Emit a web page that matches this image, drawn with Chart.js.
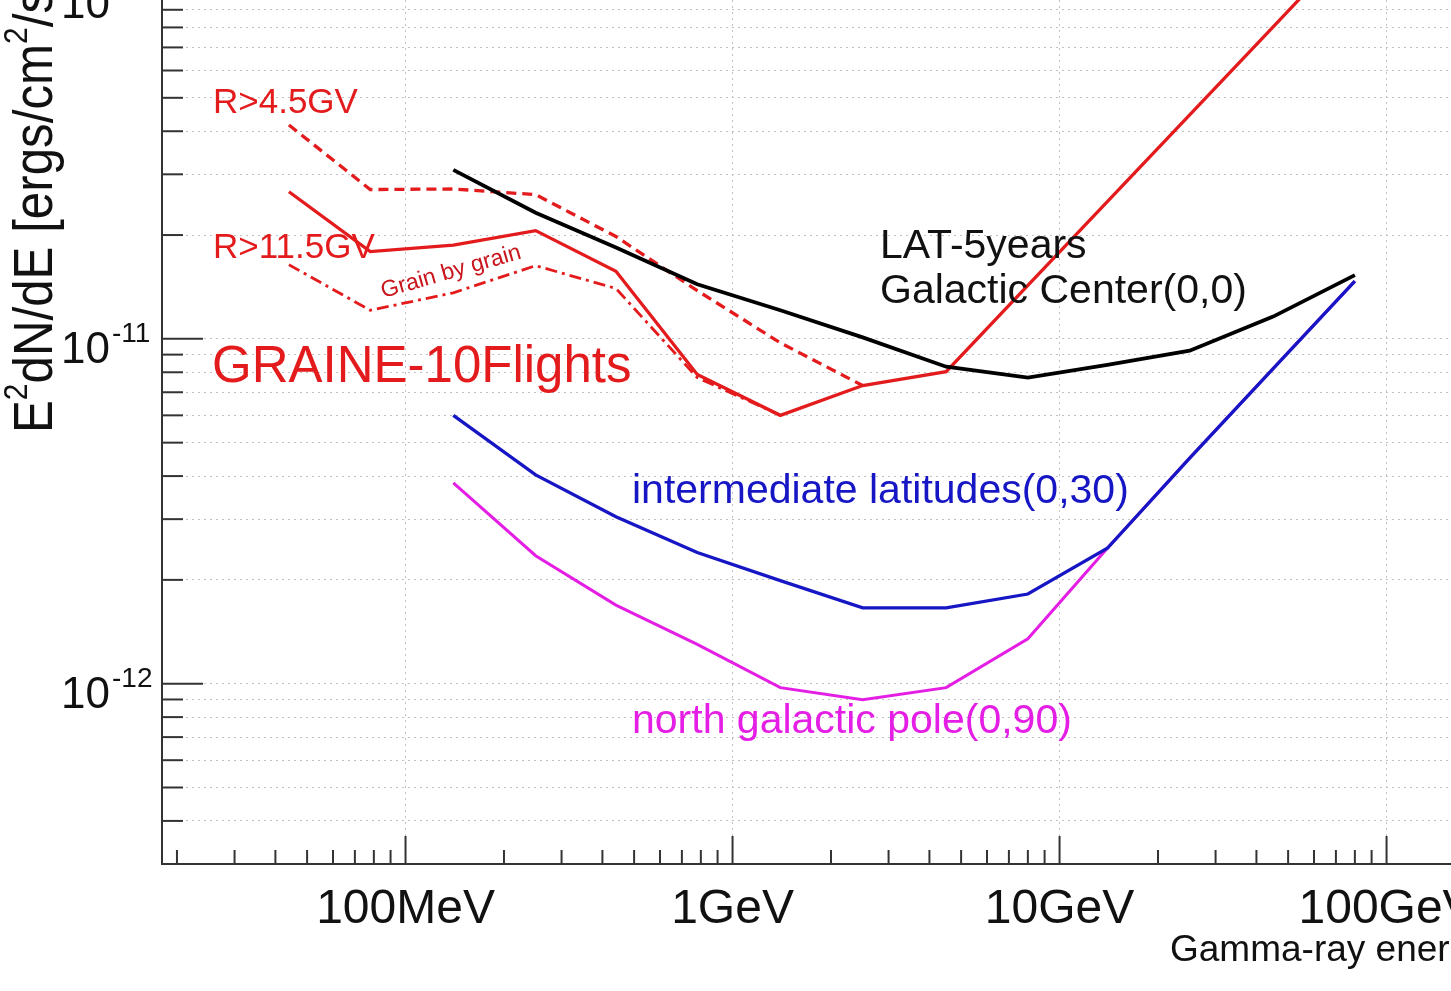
<!DOCTYPE html>
<html>
<head>
<meta charset="utf-8">
<script src="https://cdn.jsdelivr.net/npm/chart.js@4.4.1/dist/chart.umd.min.js"></script>
<style>
html, body { margin: 0; padding: 0; background: #fff; overflow: hidden; width: 1451px; height: 991px; }
#wrap { position: absolute; left: 0; top: -50px; }
</style>
</head>
<body>
<div id="wrap"><canvas id="sens" width="1700" height="1100"></canvas></div>
<script>
// energies in GeV, E^2 dN/dE in ergs/cm2/s
const fermiE = [0.14, 0.25, 0.44, 0.78, 1.4, 2.5, 4.5, 8, 14, 25, 45, 80];
const galCenter = [3.09e-11, 2.32e-11, 1.84e-11, 1.44e-11, 1.21e-11, 1.01e-11, 8.3e-12, 7.72e-12, 8.41e-12, 9.24e-12, 1.16e-11, 1.53e-11];
const midLat = [6.0e-12, 4.03e-12, 3.05e-12, 2.40e-12, 1.99e-12, 1.66e-12, 1.66e-12, 1.82e-12, 2.47e-12, 4.51e-12, 8.2e-12, 1.47e-11];
const northPole = [3.82e-12, 2.35e-12, 1.69e-12, 1.30e-12, 9.74e-13, 8.99e-13, 9.74e-13, 1.35e-12, 2.47e-12, 4.51e-12, 8.2e-12, 1.47e-11];

const graineE = [0.044, 0.078, 0.14, 0.25, 0.44, 0.78, 1.4, 2.5, 4.5, 8, 14, 25, 45, 80];
const graineR115 = [2.67e-11, 1.79e-11, 1.87e-11, 2.06e-11, 1.57e-11, 7.88e-12, 6.0e-12, 7.32e-12, 8.03e-12, 1.43e-11, 2.5e-11, 4.46e-11, 8.03e-11, 1.43e-10];
const graineR45 = [4.17e-11, 2.71e-11, 2.72e-11, 2.62e-11, 1.98e-11, 1.38e-11, 9.74e-12, 7.32e-12];
const grainByGrain = [1.64e-11, 1.21e-11, 1.36e-11, 1.63e-11, 1.40e-11, 7.72e-12, 6.0e-12];

// axis ticks
const xMajor = [0.1, 1, 10, 100];
const xMajorLabels = ['100MeV', '1GeV', '10GeV', '100GeV'];
const xMinor = [0.02, 0.03, 0.04, 0.05, 0.06, 0.07, 0.08, 0.09,
  0.2, 0.3, 0.4, 0.5, 0.6, 0.7, 0.8, 0.9,
  2, 3, 4, 5, 6, 7, 8, 9,
  20, 30, 40, 50, 60, 70, 80, 90];
const yMajor = [1e-12, 1e-11, 1e-10];
const yMinor = [4e-13, 5e-13, 6e-13, 7e-13, 8e-13, 9e-13,
  2e-12, 3e-12, 4e-12, 5e-12, 6e-12, 7e-12, 8e-12, 9e-12,
  2e-11, 3e-11, 4e-11, 5e-11, 6e-11, 7e-11, 8e-11, 9e-11];

const RED = '#e31b1d';
const BLUE = '#1616c4';
const MAG = '#e41ee4';
const FONT = '"Liberation Sans", Arial, Helvetica, sans-serif';

const pts = (xs, ys) => ys.map((v, i) => ({ x: xs[i], y: v }));

const line = (data, color, extra) => Object.assign({
  data: data, borderColor: color, borderWidth: 3.3, showLine: true,
  pointRadius: 0, tension: 0, fill: false
}, extra || {});

function font(px) { return px + 'px ' + FONT; }

const decor = {
  id: 'decor',
  afterDatasetsDraw(chart) {
    const { ctx, chartArea: a, scales: { x, y } } = chart;
    ctx.save();
    ctx.strokeStyle = '#333';
    ctx.lineWidth = 2;
    // axes
    ctx.beginPath();
    ctx.moveTo(a.left, a.top);
    ctx.lineTo(a.left, a.bottom);
    ctx.lineTo(a.right, a.bottom);
    ctx.stroke();
    // tick marks point inwards
    yMajor.concat(yMinor).forEach(v => {
      const py = y.getPixelForValue(v);
      const len = yMajor.includes(v) ? 41 : 21;
      ctx.beginPath(); ctx.moveTo(a.left, py); ctx.lineTo(a.left + len, py); ctx.stroke();
    });
    xMajor.concat(xMinor).forEach(v => {
      const px = x.getPixelForValue(v);
      const len = xMajor.includes(v) ? 28 : 14;
      ctx.beginPath(); ctx.moveTo(px, a.bottom); ctx.lineTo(px, a.bottom - len); ctx.stroke();
    });

    // tick labels
    ctx.fillStyle = '#111';
    ctx.textBaseline = 'alphabetic';
    yMajor.forEach(v => {
      const py = y.getPixelForValue(v);
      const ex = Math.round(Math.log10(v));
      ctx.font = font(44); ctx.textAlign = 'right';
      ctx.fillText('10', 110, py + 24);
      ctx.font = font(28); ctx.textAlign = 'left';
      ctx.fillText('-' + Math.abs(ex), 112, py + 3);
    });
    ctx.font = font(48);
    ctx.textAlign = 'center';
    xMajor.forEach((v, i) => {
      ctx.fillText(xMajorLabels[i], x.getPixelForValue(v), a.bottom + 59);
    });

    // axis titles
    ctx.font = font(37);
    ctx.textAlign = 'left';
    ctx.fillText('Gamma-ray energy', 1170, a.bottom + 97);

    ctx.save();
    ctx.translate(52, 483);
    ctx.rotate(-Math.PI / 2);
    ctx.scale(0.88, 1);
    let cx = 0;
    [['E', 0], ['2', 1], ['dN/dE [ergs/cm', 0], ['2', 1], ['/s]', 0]].forEach(([t, sup]) => {
      ctx.font = sup ? font(34) : font(56);
      ctx.fillText(t, cx, sup ? -25 : 0);
      cx += ctx.measureText(t).width;
    });
    ctx.restore();
    ctx.restore();
  },
  afterDraw(chart) {
    const ctx = chart.ctx;
    ctx.save();
    ctx.textAlign = 'left';
    ctx.textBaseline = 'alphabetic';
    ctx.fillStyle = RED;
    ctx.font = font(35);
    ctx.fillText('R>4.5GV', 213, 163);
    ctx.fillText('R>11.5GV', 213, 308);
    ctx.font = font(51);
    ctx.fillText('GRAINE-10Flights', 212, 432);

    ctx.save();
    ctx.translate(451, 322);
    ctx.rotate(-16 * Math.PI / 180);
    ctx.font = font(23);
    ctx.textAlign = 'center';
    ctx.textBaseline = 'middle';
    ctx.fillStyle = '#c8141a';
    ctx.fillText('Grain by grain', 0, 0);
    ctx.restore();

    ctx.font = font(41);
    ctx.fillStyle = '#111';
    ctx.fillText('LAT-5years', 880, 308);
    ctx.fillText('Galactic Center(0,0)', 880, 353);
    ctx.fillStyle = BLUE;
    ctx.fillText('intermediate latitudes(0,30)', 632, 553);
    ctx.fillStyle = MAG;
    ctx.fillText('north galactic pole(0,90)', 632, 783);
    ctx.restore();
  }
};

new Chart(document.getElementById('sens'), {
  type: 'scatter',
  data: {
    datasets: [
      line(pts(fermiE, galCenter), '#000', { borderWidth: 3.8 }),
      line(pts(fermiE, midLat), BLUE),
      line(pts(graineE, graineR115), RED),
      line(pts(graineE, graineR45), RED, { borderDash: [10, 6] }),
      line(pts(graineE, grainByGrain), RED, { borderWidth: 2.8, borderDash: [12, 5, 3, 5] }),
      line(pts(fermiE, northPole), MAG, { borderWidth: 3 })
    ]
  },
  options: {
    responsive: false,
    devicePixelRatio: 1,
    animation: false,
    layout: { padding: { left: 162, top: 44, right: 215, bottom: 186 } },
    plugins: { legend: { display: false }, tooltip: { enabled: false } },
    scales: {
      x: {
        type: 'logarithmic', min: 0.018, max: 200,
        afterBuildTicks: s => { s.ticks = xMajor.map(v => ({ value: v })); },
        ticks: { display: false },
        grid: { color: '#c2c2c2', lineWidth: 1, drawTicks: false },
        border: { display: false, dash: [2, 4] }
      },
      y: {
        type: 'logarithmic', min: 3.11e-13, max: 1e-10,
        afterBuildTicks: s => { s.ticks = yMajor.concat(yMinor).map(v => ({ value: v })); },
        ticks: { display: false },
        grid: { color: '#c2c2c2', lineWidth: 1, drawTicks: false },
        border: { display: false, dash: [2, 4] }
      }
    }
  },
  plugins: [decor]
});
</script>
</body>
</html>
